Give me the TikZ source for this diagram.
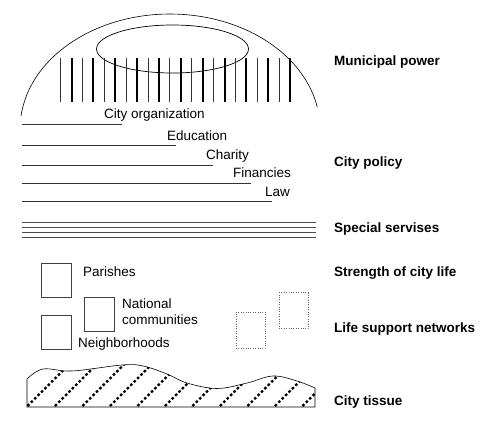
\documentclass[tikz,border=0pt]{standalone}
\usepackage{fontspec}
\setmainfont{Liberation Sans}
\usetikzlibrary{positioning}

\tikzset{
  lbl/.style={anchor=west, inner sep=0pt, font=\fontsize{13.5}{16}\selectfont},
  head/.style={anchor=west, inner sep=0pt, font=\fontsize{13.5}{16}\selectfont\bfseries},
  cell/.style={draw=black!75, minimum width=30pt, minimum height=34pt, inner sep=0pt},
  ghost/.style={draw=black!60, dotted, minimum width=29pt, minimum height=36pt, inner sep=0pt},
  rule/.style={draw=black!80, line width=0.8pt},
}

\begin{document}
\begin{tikzpicture}[x=1pt, y=-1pt]
    \useasboundingbox (0,0) rectangle (498,429);

    % municipal power
    \draw[line width=0.6pt] (21,116) arc[start angle=186.5, end angle=349, x radius=150, y radius=115];
    \draw[line width=0.7pt] (172.5,49) ellipse[x radius=76, y radius=24];
    \foreach \i in {0,2,...,20}
        \draw[line width=0.9pt, black!80] ({60.7+10.92*\i},58) -- ({60.7+10.92*\i},102);
    \foreach \i in {1,3,...,21}
        \draw[line width=2pt] ({60.7+10.92*\i},58) -- ({60.7+10.92*\i},102);

    % city policy
    \node[lbl] (org) at (104,115) {City organization};
    \node[lbl] (edu) at (167,136) {Education};
    \node[lbl] (charity) at (206,156) {Charity};
    \node[lbl] (fin) at (233,173) {Financies};
    \node[lbl] (law) at (265,192) {Law};
    \draw[rule] (22,124) -- (122,124);
    \draw[rule] (22,145) -- (176,145);
    \draw[rule] (22,165) -- (213,165);
    \draw[rule] (22,183) -- (251,183);
    \draw[rule] (22,201) -- (272,201);

    % special servises
    \foreach \y in {222,227,232,237}
        \draw[line width=0.9pt, black!70] (22,\y) -- (316,\y);

    % city life
    \node[cell] (parishbox) at (56,280) {};
    \node[cell] (natbox) at (99.5,314.5) {};
    \node[cell] (neighbox) at (56,332) {};
    \node[lbl] (parish) at (83,272) {Parishes};
    \node[lbl, align=left] (nat) at (122,312) {National\\communities};
    \node[lbl] (neigh) at (78,344) {Neighborhoods};
    \node[ghost] (net1) at (250.5,330) {};
    \node[ghost] (net2) at (293.5,310.5) {};

    % city tissue
    \begin{scope}
        \clip (27,407) -- (27,379) -- plot[smooth, tension=0.6] coordinates {(27,379) (43,369) (72,371) (122,365) (143,366) (167,374) (187,383) (217,388.5) (247,383) (273,376) (297,381) (315,388)} -- (315,407) -- cycle;
        \foreach \x in {0,...,11}
            \draw[line width=2.2pt, dash pattern=on 2.6pt off 2.2pt] ({27.5+27.5*\x},406) -- ++(45,-45);
    \end{scope}
    \draw[line width=0.6pt] (27,407) -- (27,379) -- plot[smooth, tension=0.6] coordinates {(27,379) (43,369) (72,371) (122,365) (143,366) (167,374) (187,383) (217,388.5) (247,383) (273,376) (297,381) (315,388)} -- (315,407) -- cycle;

    % legend
    \node[head] (power) at (334,62) {Municipal power};
    \node[head] (policy) at (334,163) {City policy};
    \node[head] (serv) at (334,229) {Special servises};
    \node[head] (life) at (334,273) {Strength of city life};
    \node[head] (support) at (334,329) {Life support networks};
    \node[head] (tissue) at (334,402) {City tissue};
\end{tikzpicture}
\end{document}
